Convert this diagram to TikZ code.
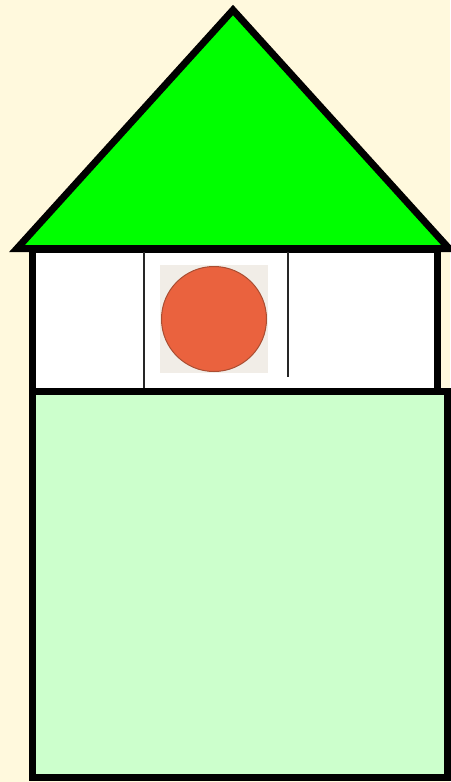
\documentclass[tikz,border=0pt]{standalone}
\usepackage{tikz}
\definecolor{housecream}{RGB}{255, 249, 221}
\definecolor{roofgreen}{RGB}{0, 255, 0}
\definecolor{wallgreen}{RGB}{204, 255, 204}
\definecolor{lampred}{RGB}{234, 98, 62}
\definecolor{lampedge}{RGB}{170, 78, 50}
\definecolor{lampback}{RGB}{241, 237, 231}

\begin{document}
\begin{tikzpicture}[x=1pt, y=-1pt]
                    \useasboundingbox (0,0) rectangle (450,782);
                    \fill[housecream] (0,0) rectangle (450,782);

                    % lower wall
                    \draw[line width=7pt, fill=wallgreen] (32,391) rectangle (447,777);
                    % window band
                    \draw[line width=7pt, fill=white] (32,249) rectangle (437,391);
                    % roof
                    \draw[line width=7pt, fill=roofgreen, line join=miter] (233,10) -- (17,248.5) -- (449,248.5) -- cycle;

                    \draw[line width=1.6pt, black!85] (144,252) -- (144,388);
                    \draw[line width=1.6pt, black!85] (288,252) -- (288,377);

                    \fill[lampback] (160,265) rectangle (268,373);
                    \node[draw=lampedge, circle, fill=lampred, line width=1pt, minimum size=105pt, inner sep=0pt] (lamp) at (214,319) {};
                \end{tikzpicture}
\end{document}
